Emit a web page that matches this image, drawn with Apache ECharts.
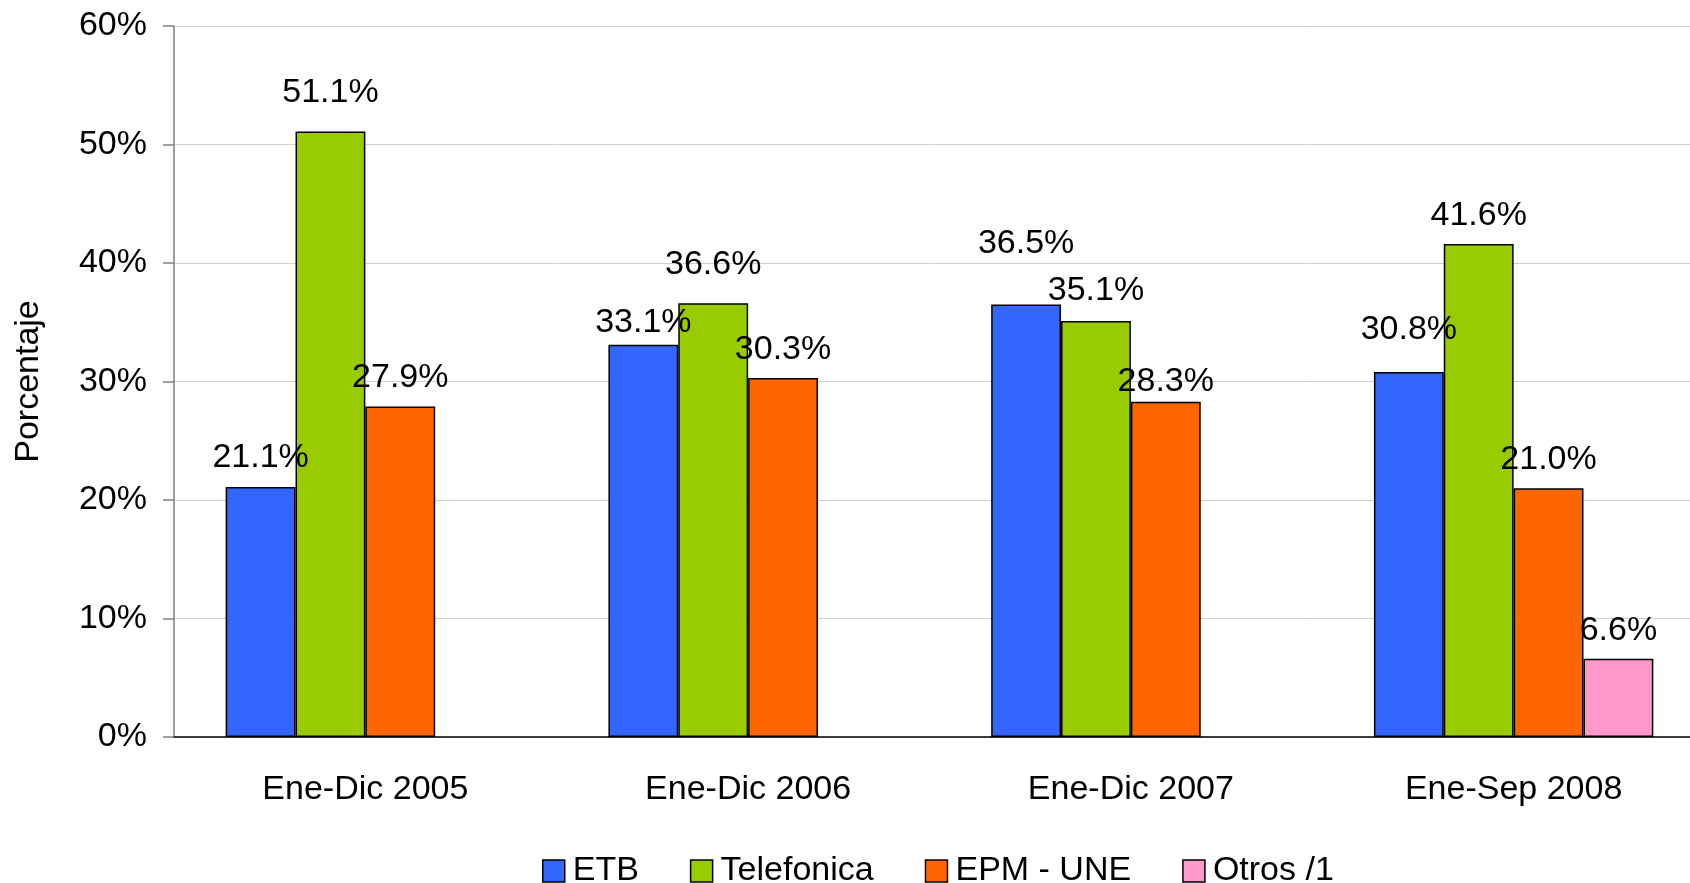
<!DOCTYPE html>
<html>
<head>
<meta charset="utf-8">
<script src="https://cdn.jsdelivr.net/npm/echarts@6/dist/echarts.min.js"></script>
<style>
	html, body { margin: 0; padding: 0; background: #fff; }
	#chart { width: 1690px; height: 883px; }
</style>
</head>
<body>
<div id="chart"></div>
<script>
const categories = ["Ene-Dic 2005", "Ene-Dic 2006", "Ene-Dic 2007", "Ene-Sep 2008"];
const etb = [21.1, 33.1, 36.5, 30.8];
const telefonica = [51.1, 36.6, 35.1, 41.6];
const epmUne = [27.9, 30.3, 28.3, 21.0];
const otros = [null, null, null, 6.6];

// extra lift of some value labels, as the original spreadsheet nudged them
const etbLift = [0, -7, 32, 13];
const telefonicaLift = [10, 10, 1, -1];
const epmUneLift = [0, -1, -9, 0];
const otrosLift = [0, 0, 0, -1];

const font = "'Liberation Sans', Arial, sans-serif";

const makeSeries = (name, data, lift, color) => ({
	name: name,
	type: "bar",
	data: data.map((v, i) => ({ value: v, label: { distance: 12 + lift[i] } })),
	barGap: "0%",
	barCategoryGap: "27%",
	itemStyle: { color: color, borderColor: "#000", borderWidth: 1.5 },
	label: {
		show: true,
		position: "top",
		distance: 12,
		color: "#000",
		fontSize: 34,
		fontFamily: font,
		formatter: (p) => (p.value == null ? "" : p.value.toFixed(1) + "%"),
	},
});

const chart = echarts.init(document.getElementById("chart"), null, { renderer: "canvas" });

chart.setOption({
	animation: false,
	backgroundColor: "#fff",
	grid: { left: 174, top: 26, bottom: 146, right: -15, outerBoundsMode: "none", containLabel: false },
	legend: {
		left: 537,
		top: 849,
		itemWidth: 22,
		itemHeight: 22,
		itemGap: 51,
		icon: "rect",
		itemStyle: { borderColor: "#000", borderWidth: 1.5 },
		textStyle: { fontSize: 34, fontFamily: font, color: "#000", padding: [0, 0, 0, 3] },
		data: ["ETB", "Telefonica", "EPM - UNE", "Otros /1"],
	},
	xAxis: {
		type: "category",
		data: categories,
		axisLine: { lineStyle: { color: "#000", width: 1.5 } },
		axisTick: { length: 11, lineStyle: { color: "#808080", width: 1.5 } },
		axisLabel: { margin: 36, fontSize: 34, fontFamily: font, color: "#000" },
	},
	yAxis: {
		type: "value",
		min: 0,
		max: 60,
		interval: 10,
		name: "Porcentaje",
		nameLocation: "middle",
		nameGap: 128,
		nameRotate: 90,
		nameTextStyle: { fontSize: 34, fontFamily: font, color: "#000" },
		axisLine: { show: true, lineStyle: { color: "#808080", width: 1.5 } },
		axisTick: { show: true, length: 11, lineStyle: { color: "#808080", width: 1.5 } },
		axisLabel: { margin: 27, fontSize: 34, fontFamily: font, color: "#000", formatter: "{value}%" },
		splitLine: { lineStyle: { color: "#d0d0d0", width: 1 } },
	},
	series: [
		makeSeries("ETB", etb, etbLift, "#3366FF"),
		makeSeries("Telefonica", telefonica, telefonicaLift, "#99CC00"),
		makeSeries("EPM - UNE", epmUne, epmUneLift, "#FF6600"),
		makeSeries("Otros /1", otros, otrosLift, "#FF99CC"),
	],
});
</script>
</body>
</html>
